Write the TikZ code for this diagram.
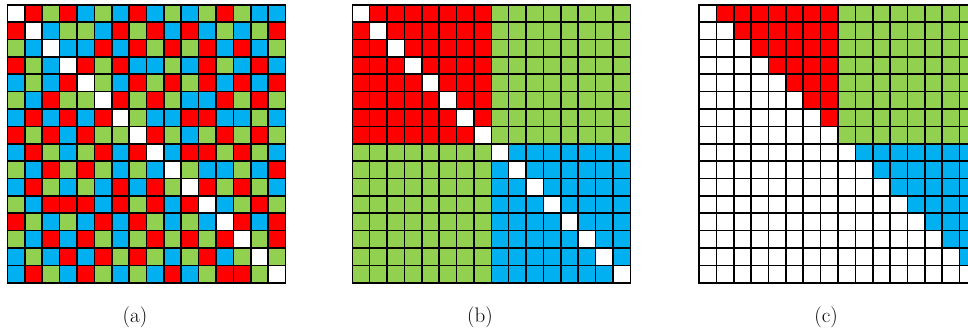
\documentclass[tikz,border=0pt]{standalone}
\definecolor{cR}{RGB}{255,0,0}
\definecolor{cG}{RGB}{146,208,80}
\definecolor{cB}{RGB}{0,176,240}
\definecolor{cW}{RGB}{255,255,255}
\begin{document}
\begin{tikzpicture}[x=1pt,y=-1pt,
  cell/.style={draw=black,line width=1.6pt},
  lbl/.style={font=\fontsize{21}{25}\selectfont, inner sep=0pt}]
\useasboundingbox (0,0) rectangle (968,333);
\clip (0,0) rectangle (968,333);
\def\s{17.375}
% (a)
\foreach \r [count=\i from 0] in {
 {W,R,G,R,B,G,B,R,B,G,B,G,R,G,B,B},
 {R,W,B,G,G,B,R,G,R,B,R,B,G,B,G,R},
 {G,B,W,B,B,R,B,R,G,R,G,R,B,R,B,G},
 {R,G,B,W,R,G,R,B,B,G,B,R,G,B,R,B},
 {B,G,B,R,W,G,B,R,G,R,G,R,B,R,B,R},
 {G,B,R,G,G,W,R,G,R,G,B,B,R,G,R,G},
 {B,R,B,R,B,R,W,G,B,B,R,R,B,B,G,B},
 {R,G,R,B,R,G,G,W,R,G,B,G,R,G,R,G},
 {B,R,G,B,G,R,B,R,W,B,R,R,G,R,G,B},
 {G,B,R,G,R,G,B,G,B,W,G,B,B,G,B,R},
 {B,R,G,B,G,B,R,B,R,G,W,R,G,R,G,B},
 {G,B,R,R,R,B,R,G,R,B,R,W,B,G,R,G},
 {R,G,B,G,B,R,B,R,G,B,G,B,W,R,B,R},
 {G,B,R,B,R,G,B,G,R,G,R,G,R,W,G,R},
 {B,G,B,R,B,R,G,R,G,B,G,R,B,G,W,G},
 {B,R,G,B,R,G,B,G,B,R,B,G,R,R,G,W}}{
  \foreach \c [count=\j from 0] in \r {
    \filldraw[cell, fill=c\c] ({7.5+\j*\s},{4.7+\i*\s}) rectangle ++(\s,\s);
  }
}
% (b)
\foreach \i in {0,...,15}{
  \foreach \j in {0,...,15}{
    \ifnum\i<8 \ifnum\j<8 \def\col{cR}\else\def\col{cG}\fi
    \else \ifnum\j<8 \def\col{cG}\else\def\col{cB}\fi\fi
    \ifnum\i=\j \def\col{cW}\fi
    \filldraw[cell, fill=\col] ({352.3+\j*\s},{4.7+\i*\s}) rectangle ++(\s,\s);
  }
}
% (c)
\foreach \i in {0,...,15}{
  \foreach \j in {0,...,15}{
    \ifnum\j>\i
      \ifnum\j<8 \def\col{cR}\else \ifnum\i<8 \def\col{cG}\else\def\col{cB}\fi\fi
    \else \def\col{cW}\fi
    \filldraw[cell, fill=\col] ({699+\j*\s},{4.7+\i*\s}) rectangle ++(\s,\s);
  }
}
\node[lbl] (la) at (135,317) {(a)};
\node[lbl] (lb) at (480,317) {(b)};
\node[lbl] (lc) at (826,317) {(c)};
\end{tikzpicture}
\end{document}
